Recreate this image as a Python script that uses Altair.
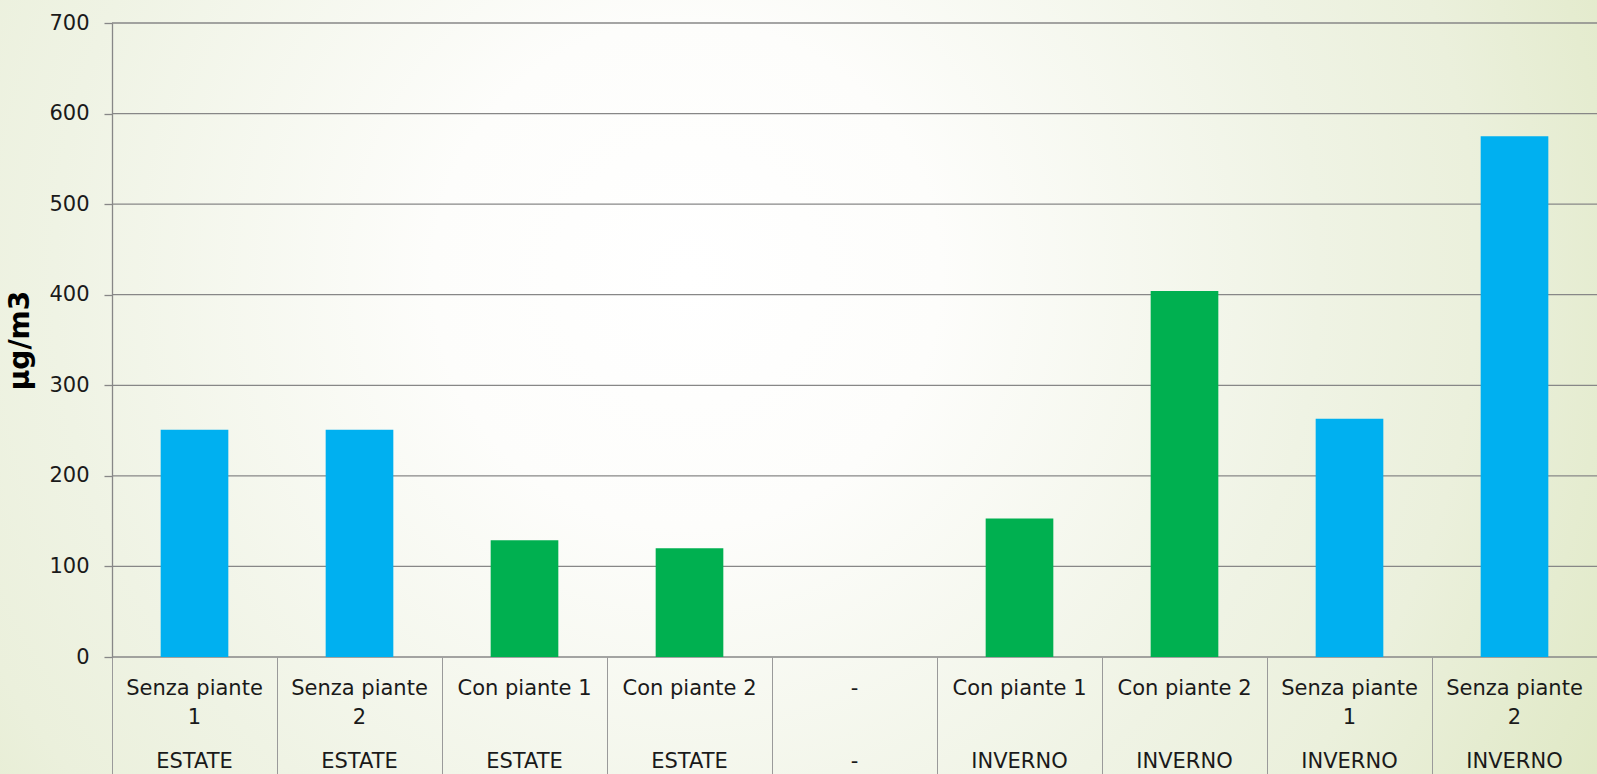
import altair as alt
import pandas as pd

# ---- data ----
seasons = ["ESTATE", "ESTATE", "ESTATE", "ESTATE", "-", "INVERNO", "INVERNO", "INVERNO", "INVERNO"]
treatments = ["Senza piante 1", "Senza piante 2", "Con piante 1", "Con piante 2", "-",
              "Con piante 1", "Con piante 2", "Senza piante 1", "Senza piante 2"]
values = [251, 251, 129, 120, None, 153, 404, 263, 575]
y_ticks = [0, 100, 200, 300, 400, 500, 600, 700]
y_title = "µg/m3"


def wrap(treatment):
    # wrapped like the original: long names put the number on the next line
    if len(treatment) > 12:
        head, tail = treatment.rsplit(" ", 1)
        return head + "\n" + tail
    return treatment


keys = [f"{s}|{t}" for s, t in zip(seasons, treatments)]
groups = [t.split(" ")[0] for t in treatments]

df = pd.DataFrame({
    "key": keys,
    "value": values,
    "group": groups,
    "row1": [wrap(t) for t in treatments],
    "row2": seasons,
})
grid_df = pd.DataFrame({"value": y_ticks})
bg_df = pd.DataFrame({"a": [0]})

FONT = "DejaVu Sans"
GRID = "#878787"
W, H = 1485, 634

x_axis = alt.Axis(
    title=None,
    labels=False,
    tickBand="extent",
    tickSize=117,
    tickColor="#9a9a9a",
    tickWidth=1,
    domain=False,
    grid=False,
    zindex=1,
)
x_scale = alt.Scale(domain=keys, paddingInner=0, paddingOuter=0)


def x_enc():
    return alt.X("key:N", sort=keys, scale=x_scale, axis=x_axis)


y_axis = alt.Axis(
    values=y_ticks,
    title=y_title,
    titleFontSize=28,
    titleFontWeight="bold",
    titleColor="#000000",
    titlePadding=14,
    labelFontSize=21,
    labelColor="#1a1a1a",
    labelPadding=15,
    tickSize=8,
    tickColor=GRID,
    tickWidth=1.3,
    domainColor=GRID,
    domainWidth=1.3,
    grid=False,
    zindex=1,
)
y_scale = alt.Scale(domain=[0, 700], nice=False)

gradient = alt.RadialGradient(
    gradient="radial",
    x1=0.43, y1=0.43, r1=0,
    x2=0.43, y2=0.43, r2=0.66,
    stops=[
        alt.GradientStop(offset=0, color="#ffffff"),
        alt.GradientStop(offset=0.24, color="#fdfdfb"),
        alt.GradientStop(offset=0.6, color="#eff3e4"),
        alt.GradientStop(offset=0.75, color="#ebf0dc"),
        alt.GradientStop(offset=1, color="#dfe8c4"),
    ],
)

background = alt.Chart(bg_df).mark_rect(fill=gradient, strokeWidth=0).encode(
    x=alt.value(-112), x2=alt.value(W), y=alt.value(-423), y2=alt.value(1151)
)

grid = alt.Chart(grid_df).mark_rule(color=GRID, strokeWidth=1.3).encode(
    y=alt.Y("value:Q", scale=y_scale, axis=y_axis)
)

bars = alt.Chart(df).mark_bar(width=alt.RelativeBandSize(band=0.41)).encode(
    x=x_enc(),
    y=alt.Y("value:Q", scale=y_scale, axis=y_axis),
    color=alt.Color(
        "group:N",
        scale=alt.Scale(domain=["Senza", "Con", "-"], range=["#00B0F0", "#00B050", "#00B050"]),
        legend=None,
    ),
).transform_filter("isValid(datum.value)")

label_style = dict(align="center", baseline="alphabetic", fontSize=21, color="#1a1a1a",
                   lineBreak="\n", lineHeight=29)

labels1 = alt.Chart(df).mark_text(**label_style).encode(
    x=x_enc(), y=alt.value(H + 38), text="row1:N"
)
labels2 = alt.Chart(df).mark_text(**label_style).encode(
    x=x_enc(), y=alt.value(H + 111), text="row2:N"
)

chart = alt.layer(background, grid, bars, labels1, labels2).properties(
    width=W,
    height=H,
    autosize=alt.AutoSizeParams(type="none"),
    padding={"left": 112, "top": 23, "right": 0, "bottom": 117},
).configure(font=FONT).configure_view(stroke=None)

chart.save("out.html", embed_options={"renderer": "svg", "actions": False})
